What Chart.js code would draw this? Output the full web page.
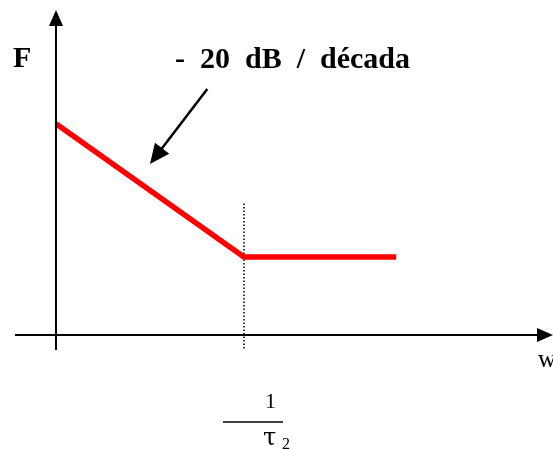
<!DOCTYPE html>
<html>
<head>
<meta charset="utf-8">
<script src="https://cdn.jsdelivr.net/npm/chart.js@4/dist/chart.umd.min.js"></script>
<style>
  html, body { margin: 0; padding: 0; background: #fff; }
  #wrap { width: 553px; height: 450px; }
</style>
</head>
<body>
<div id="wrap"><canvas id="bode"></canvas></div>
<script>
// asymptotic magnitude: falls at -20 dB/decade, then flat after w = 1/tau2
const RESPONSE_X = [0, 1, 1.81];
const RESPONSE_Y = [6.5, 2.4, 2.4];

// dotted marker at the break frequency
const BREAK_X = [1, 1];
const BREAK_Y = [4.05, -0.46];

// annotation arrow (tail -> head), in data units
const NOTE_ARROW_X = [0.805, 0.50];
const NOTE_ARROW_Y = [7.57, 5.26];

const X_RANGE = [-0.218, 2.644];
const Y_RANGE = [-0.46, 10];

const SERIF = "'Liberation Serif', 'Times New Roman', serif";

const toPoints = (xs, ys) => xs.map((x, i) => ({ x, y: ys[i] }));

function arrowHead(ctx, x1, y1, x2, y2, len, half) {
  const a = Math.atan2(y2 - y1, x2 - x1);
  ctx.beginPath();
  ctx.moveTo(x2, y2);
  ctx.lineTo(x2 - len * Math.cos(a) + half * Math.sin(a), y2 - len * Math.sin(a) - half * Math.cos(a));
  ctx.lineTo(x2 - len * Math.cos(a) - half * Math.sin(a), y2 - len * Math.sin(a) + half * Math.cos(a));
  ctx.closePath();
  ctx.fill();
}

const sketchAxes = {
  id: 'sketchAxes',
  afterDatasetsDraw(chart) {
    const { ctx, scales: { x, y } } = chart;
    const x0 = x.getPixelForValue(0);
    const y0 = y.getPixelForValue(0);
    const left = x.getPixelForValue(X_RANGE[0]);
    const right = x.getPixelForValue(X_RANGE[1]);
    const top = y.getPixelForValue(Y_RANGE[1]);
    const bottom = y.getPixelForValue(Y_RANGE[0]);

    ctx.save();
    ctx.strokeStyle = '#000';
    ctx.fillStyle = '#000';
    ctx.lineWidth = 2;

    // y axis
    ctx.beginPath();
    ctx.moveTo(x0, bottom);
    ctx.lineTo(x0, top + 10);
    ctx.stroke();
    arrowHead(ctx, x0, bottom, x0, top, 16, 7);

    // x axis
    ctx.beginPath();
    ctx.moveTo(left, y0);
    ctx.lineTo(right - 10, y0);
    ctx.stroke();
    arrowHead(ctx, left, y0, right, y0, 16, 7);

    // annotation arrow
    const ax1 = x.getPixelForValue(NOTE_ARROW_X[0]), ay1 = y.getPixelForValue(NOTE_ARROW_Y[0]);
    const ax2 = x.getPixelForValue(NOTE_ARROW_X[1]), ay2 = y.getPixelForValue(NOTE_ARROW_Y[1]);
    ctx.lineWidth = 2.5;
    ctx.beginPath();
    ctx.moveTo(ax1, ay1);
    ctx.lineTo(ax1 + (ax2 - ax1) * 0.85, ay1 + (ay2 - ay1) * 0.85);
    ctx.stroke();
    arrowHead(ctx, ax1, ay1, ax2, ay2, 20, 9);

    // labels
    ctx.textBaseline = 'alphabetic';
    ctx.font = `bold 30px ${SERIF}`;
    ctx.fillText('F', 13, 67);
    ctx.fillText('-  20  dB  /  década', 175, 68);

    ctx.font = `25px ${SERIF}`;
    ctx.fillText('w', 538, 367);
    ctx.font = `22px ${SERIF}`;
    ctx.fillText('1', 265, 408);

    // 1 / tau2 fraction
    ctx.lineWidth = 1.5;
    ctx.beginPath();
    ctx.moveTo(223, 422);
    ctx.lineTo(283, 422);
    ctx.stroke();
    ctx.font = `24px 'DejaVu Serif', serif`;
    ctx.fillText('τ', 263, 445);
    ctx.font = `16px ${SERIF}`;
    ctx.fillText('2', 282, 449);
    ctx.restore();
  }
};

new Chart(document.getElementById('bode'), {
  type: 'scatter',
  data: {
    datasets: [
      {
        label: 'F',
        data: toPoints(RESPONSE_X, RESPONSE_Y),
        showLine: true,
        borderColor: '#ff0000',
        borderWidth: 5.5,
        borderCapStyle: 'butt',
        pointRadius: 0,
      },
      {
        label: '1/τ2',
        data: toPoints(BREAK_X, BREAK_Y),
        showLine: true,
        borderColor: '#000',
        borderWidth: 1.5,
        borderDash: [1.5, 2],
        pointRadius: 0,
      }
    ]
  },
  options: {
    responsive: true,
    maintainAspectRatio: false,
    animation: false,
    layout: { padding: { left: 15, right: 0, top: 10, bottom: 100 } },
    plugins: { legend: { display: false }, tooltip: { enabled: false } },
    scales: {
      x: { type: 'linear', min: X_RANGE[0], max: X_RANGE[1], display: false },
      y: { type: 'linear', min: Y_RANGE[0], max: Y_RANGE[1], display: false }
    }
  },
  plugins: [sketchAxes]
});
</script>
</body>
</html>
